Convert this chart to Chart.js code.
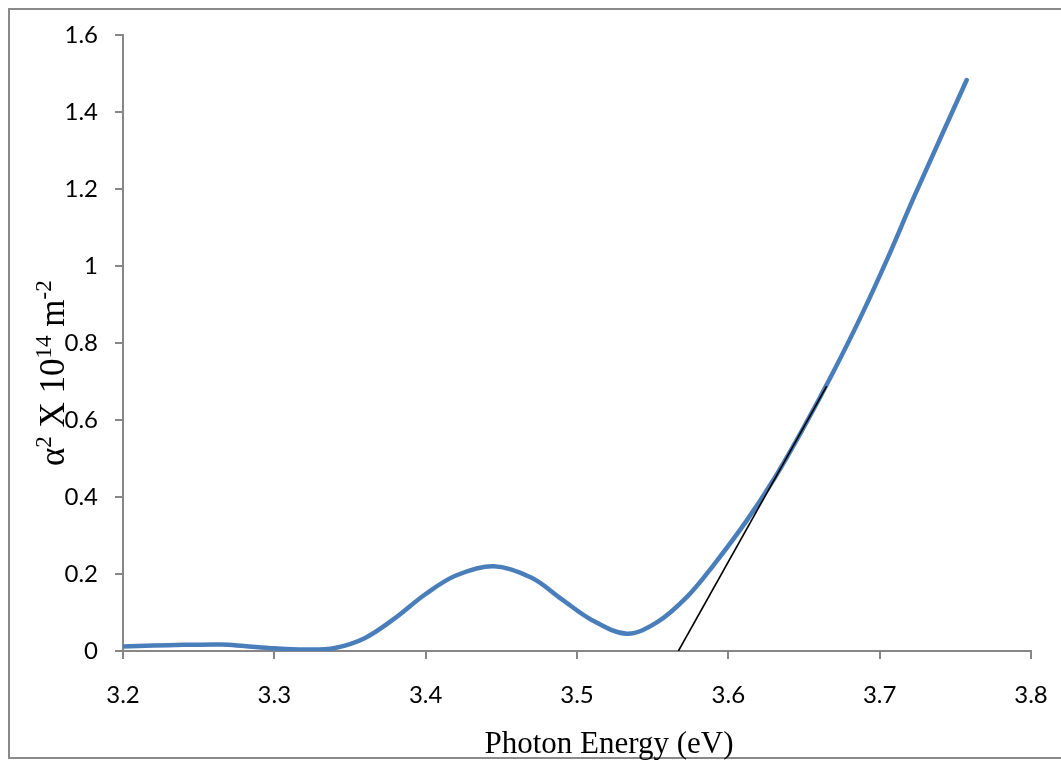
<!DOCTYPE html>
<html>
<head>
<meta charset="utf-8">
<script src="https://cdn.jsdelivr.net/npm/chart.js@4/dist/chart.umd.min.js"></script>
<style>
  html, body { margin: 0; padding: 0; background: #fff; }
  #wrap { width: 1061px; height: 762px; position: relative; }
</style>
</head>
<body>
<div id="wrap"><canvas id="c" width="1061" height="762"></canvas></div>
<script>
// ---- data ----
const photonEnergy = [3.20, 3.22, 3.24, 3.265, 3.28, 3.30, 3.32, 3.34, 3.36, 3.38, 3.40, 3.42, 3.445, 3.47, 3.49, 3.51, 3.533, 3.553, 3.573, 3.59, 3.612, 3.631, 3.65, 3.669, 3.687, 3.705, 3.723, 3.7575];
const alphaSquared = [0.012, 0.014, 0.016, 0.017, 0.013, 0.007, 0.004, 0.008, 0.034, 0.086, 0.148, 0.196, 0.220, 0.190, 0.134, 0.080, 0.045, 0.075, 0.142, 0.222, 0.338, 0.452, 0.582, 0.722, 0.864, 1.018, 1.182, 1.483];
const tangentX = [3.567, 3.665];
const tangentY = [0.0, 0.688];
const xTickValues = [3.2, 3.3, 3.4, 3.5, 3.6, 3.7, 3.8];
const xTickLabels = ['3.2', '3.3', '3.4', '3.5', '3.6', '3.7', '3.8'];
const yTickValues = [0, 0.2, 0.4, 0.6, 0.8, 1.0, 1.2, 1.4, 1.6];
const yTickLabels = ['0', '0.2', '0.4', '0.6', '0.8', '1', '1.2', '1.4', '1.6'];
const xTitle = 'Photon Energy (eV)';
const yTitleParts = [['α', false], ['2', true], [' X 10', false], ['14', true], [' m', false], ['-2', true]];

const curvePoints = photonEnergy.map((x, i) => ({ x: x, y: alphaSquared[i] }));
const tangentPoints = tangentX.map((x, i) => ({ x: x, y: tangentY[i] }));

function labelFor(values, labels, v) {
  const i = values.findIndex(t => Math.abs(t - v) < 1e-6);
  return i >= 0 ? labels[i] : '';
}

const axisGray = '#878787';
const PAD = { left: 0, top: 35, right: 30, bottom: 0 };

const decorPlugin = {
  id: 'decor',
  beforeDraw(chart) {
    const ctx = chart.ctx;
    ctx.save();
    ctx.fillStyle = '#ffffff';
    ctx.fillRect(0, 0, chart.width, chart.height);
    ctx.strokeStyle = '#8a8a8a';
    ctx.lineWidth = 2;
    ctx.strokeRect(9, 9, 1100, 749);
    ctx.restore();
  },
  afterDraw(chart) {
    const ctx = chart.ctx;
    ctx.save();
    ctx.fillStyle = '#000000';
    // x title
    ctx.font = '31px "Liberation Serif"';
    ctx.textAlign = 'center';
    ctx.textBaseline = 'alphabetic';
    ctx.fillText(xTitle, 609, 753);
    // y title (rotated, with superscripts)
    const fs = 35;
    ctx.translate(64, 466);
    ctx.rotate(-Math.PI / 2);
    ctx.textAlign = 'left';
    let px = 0;
    yTitleParts.forEach(([t, sup]) => {
      const size = sup ? Math.round(fs * 0.65) : fs;
      ctx.font = size + 'px "Liberation Serif"';
      ctx.fillText(t, px, sup ? -fs * 0.36 : 0);
      px += ctx.measureText(t).width;
    });
    ctx.restore();
  }
};

new Chart(document.getElementById('c'), {
  type: 'line',
  data: {
    datasets: [
      {
        label: 'alpha^2',
        data: curvePoints,
        borderColor: '#4A7EBB',
        borderWidth: 4.5,
        borderCapStyle: 'round',
        borderJoinStyle: 'round',
        pointRadius: 0,
        fill: false,
        tension: 0.35,
        order: 2
      },
      {
        label: 'tangent',
        data: tangentPoints,
        borderColor: '#000000',
        borderWidth: 1.6,
        pointRadius: 0,
        fill: false,
        tension: 0,
        order: 1
      }
    ]
  },
  options: {
    responsive: false,
    animation: false,
    devicePixelRatio: 1,
    layout: { padding: PAD },
    plugins: {
      legend: { display: false },
      tooltip: { enabled: false },
      title: { display: false }
    },
    scales: {
      x: {
        type: 'linear',
        min: 3.2,
        max: 3.8,
        afterBuildTicks(scale) { scale.ticks = xTickValues.map(v => ({ value: v })); },
        afterFit(scale) {
          scale.height = 762 - 651 - PAD.bottom;
          scale.paddingRight = 0;
          scale.paddingLeft = 0;
        },
        ticks: {
          callback: (v) => labelFor(xTickValues, xTickLabels, v),
          font: { family: 'Lato', size: 24 },
          color: '#000000',
          padding: 22,
          maxRotation: 0,
          autoSkip: false
        },
        grid: { drawOnChartArea: false, drawTicks: true, tickLength: 8, color: axisGray, lineWidth: 2 },
        border: { display: true, color: axisGray, width: 2 }
      },
      y: {
        type: 'linear',
        min: 0,
        max: 1.6,
        afterBuildTicks(scale) { scale.ticks = yTickValues.map(v => ({ value: v })); },
        afterFit(scale) { scale.width = 123 - PAD.left; },
        ticks: {
          callback: (v) => labelFor(yTickValues, yTickLabels, v),
          font: { family: 'Lato', size: 24 },
          color: '#000000',
          padding: 17,
          autoSkip: false
        },
        grid: { drawOnChartArea: false, drawTicks: true, tickLength: 8, color: axisGray, lineWidth: 2 },
        border: { display: true, color: axisGray, width: 2 }
      }
    }
  },
  plugins: [decorPlugin]
});
</script>
</body>
</html>
